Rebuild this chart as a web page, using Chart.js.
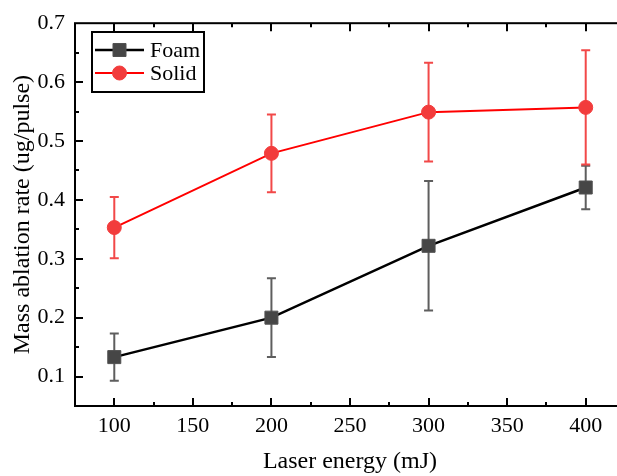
<!DOCTYPE html>
<html>
<head>
<meta charset="utf-8">
<script src="https://cdn.jsdelivr.net/npm/chart.js@4"></script>
<style>
  html, body { margin: 0; padding: 0; background: #fff; overflow: hidden; }
  #wrap { width: 640px; height: 476px; }
</style>
</head>
<body>
<div id="wrap"><canvas id="chart" width="640" height="476"></canvas></div>
<script>
// data
const energy = [100, 200, 300, 400];
const foamRate = [0.133, 0.200, 0.322, 0.421];
const foamErr = [0.040, 0.067, 0.110, 0.037];
const solidRate = [0.353, 0.479, 0.549, 0.557];
const solidErr = [0.052, 0.066, 0.084, 0.097];

const xTicks = [100, 150, 200, 250, 300, 350, 400];
const yTicks = [0.1, 0.2, 0.3, 0.4, 0.5, 0.6, 0.7];

const FONT = "'Liberation Serif', 'Times New Roman', serif";

/**
 * Vertical error bars with caps, drawn under the markers
 */
const errorBars = {
  id: 'errorBars',
  beforeDatasetsDraw(chart) {
    const { ctx } = chart;
    const x = chart.scales.x;
    const y = chart.scales.y;
    chart.data.datasets.forEach(ds => {
      ctx.save();
      ctx.strokeStyle = ds.errColor;
      ctx.lineWidth = 2;
      ds.data.forEach((p, i) => {
        const px = x.getPixelForValue(p.x);
        const top = y.getPixelForValue(p.y + ds.err[i]);
        const bot = y.getPixelForValue(p.y - ds.err[i]);
        ctx.beginPath();
        ctx.moveTo(px, top);
        ctx.lineTo(px, bot);
        ctx.moveTo(px - 4.5, top);
        ctx.lineTo(px + 4.5, top);
        ctx.moveTo(px - 4.5, bot);
        ctx.lineTo(px + 4.5, bot);
        ctx.stroke();
      });
      ctx.restore();
    });
  }
};

/**
 * Box frame with inward major/minor ticks on all four sides
 */
const frame = {
  id: 'frame',
  afterDraw(chart) {
    const { ctx, chartArea: a } = chart;
    const x = chart.scales.x;
    const y = chart.scales.y;
    ctx.save();
    ctx.strokeStyle = '#000';
    ctx.lineWidth = 2;
    ctx.strokeRect(a.left, a.top, a.right - a.left, a.bottom - a.top);
    ctx.beginPath();
    const xStep = xTicks[1] - xTicks[0];
    xTicks.forEach(v => {
      [[v, 8], [v + xStep / 2, 4], [v - xStep / 2, 4]].forEach(([val, len]) => {
        const px = Math.round(x.getPixelForValue(val));
        if (px <= a.left || px >= a.right) return;
        ctx.moveTo(px, a.bottom); ctx.lineTo(px, a.bottom - len);
        ctx.moveTo(px, a.top); ctx.lineTo(px, a.top + len);
      });
    });
    const yStep = yTicks[1] - yTicks[0];
    yTicks.forEach(v => {
      [[v, 8], [v + yStep / 2, 4], [v - yStep / 2, 4]].forEach(([val, len]) => {
        const py = Math.round(y.getPixelForValue(val));
        if (py <= a.top || py >= a.bottom) return;
        ctx.moveTo(a.left, py); ctx.lineTo(a.left + len, py);
        ctx.moveTo(a.right, py); ctx.lineTo(a.right - len, py);
      });
    });
    ctx.stroke();
    ctx.restore();
  }
};

/**
 * Boxed legend inside the plot, line + marker samples
 */
const boxLegend = {
  id: 'boxLegend',
  afterDraw(chart) {
    const { ctx } = chart;
    const box = { left: 92, top: 32, right: 204, bottom: 92 };
    ctx.save();
    ctx.fillStyle = '#fff';
    ctx.fillRect(box.left, box.top, box.right - box.left, box.bottom - box.top);
    ctx.strokeStyle = '#000';
    ctx.lineWidth = 2;
    ctx.strokeRect(box.left, box.top, box.right - box.left, box.bottom - box.top);
    chart.data.datasets.forEach((ds, i) => {
      const cy = 50 + i * 23;
      ctx.strokeStyle = ds.borderColor;
      ctx.lineWidth = ds.borderWidth;
      ctx.beginPath();
      ctx.moveTo(95, cy);
      ctx.lineTo(144, cy);
      ctx.stroke();
      ctx.fillStyle = ds.pointBackgroundColor;
      ctx.strokeStyle = ds.pointBorderColor;
      ctx.lineWidth = 1;
      ctx.beginPath();
      if (ds.pointStyle === 'rect') {
        const s = ds.pointRadius * Math.SQRT1_2;
        ctx.rect(119.5 - s, cy - s, 2 * s, 2 * s);
      } else {
        ctx.arc(119.5, cy, ds.pointRadius, 0, Math.PI * 2);
      }
      ctx.fill();
      ctx.stroke();
      ctx.fillStyle = '#000';
      ctx.font = '22px ' + FONT;
      ctx.textBaseline = 'middle';
      ctx.textAlign = 'left';
      ctx.fillText(ds.label, 150, cy + 1);
    });
    ctx.restore();
  }
};

new Chart(document.getElementById('chart'), {
  type: 'line',
  data: {
    datasets: [
      {
        label: 'Foam',
        data: energy.map((e, i) => ({ x: e, y: foamRate[i] })),
        err: foamErr,
        errColor: '#5e5e5e',
        borderColor: '#000000',
        borderWidth: 2.5,
        pointStyle: 'rect',
        pointRadius: 9.2,
        pointBackgroundColor: '#464646',
        pointBorderColor: '#505050',
        pointBorderWidth: 1,
        tension: 0
      },
      {
        label: 'Solid',
        data: energy.map((e, i) => ({ x: e, y: solidRate[i] })),
        err: solidErr,
        errColor: '#f24848',
        borderColor: '#ff0000',
        borderWidth: 2,
        pointStyle: 'circle',
        pointRadius: 7,
        pointBackgroundColor: '#f23c3c',
        pointBorderColor: '#f23c3c',
        pointBorderWidth: 1,
        tension: 0
      }
    ]
  },
  options: {
    responsive: false,
    animation: false,
    events: [],
    layout: {
      autoPadding: false,
      padding: { top: 16, right: 15, left: 0, bottom: 0 }
    },
    plugins: {
      legend: { display: false },
      tooltip: { enabled: false }
    },
    scales: {
      x: {
        type: 'linear',
        min: 75,
        max: 425,
        afterFit: s => { s.height = 70; },
        afterBuildTicks: s => { s.ticks = xTicks.map(v => ({ value: v })); },
        grid: { display: false, drawTicks: false },
        border: { display: false },
        ticks: {
          color: '#000',
          padding: 7,
          maxRotation: 0,
          font: { family: FONT, size: 22 }
        },
        title: {
          display: true,
          text: 'Laser energy (mJ)',
          color: '#000',
          padding: 0,
          font: { family: FONT, size: 24, lineHeight: 1.2 }
        }
      },
      y: {
        type: 'linear',
        min: 0.05,
        max: 0.7,
        afterFit: s => { s.width = 75; },
        afterBuildTicks: s => { s.ticks = yTicks.map(v => ({ value: v })); },
        grid: { display: false, drawTicks: false },
        border: { display: false },
        ticks: {
          color: '#000',
          padding: 10,
          font: { family: FONT, size: 22 },
          callback: v => v.toFixed(1)
        },
        title: {
          display: true,
          text: 'Mass ablation rate (ug/pulse)',
          color: '#000',
          padding: { top: 8, bottom: 0 },
          font: { family: FONT, size: 24, lineHeight: 1.2 }
        }
      }
    }
  },
  plugins: [errorBars, frame, boxLegend]
});
</script>
</body>
</html>
